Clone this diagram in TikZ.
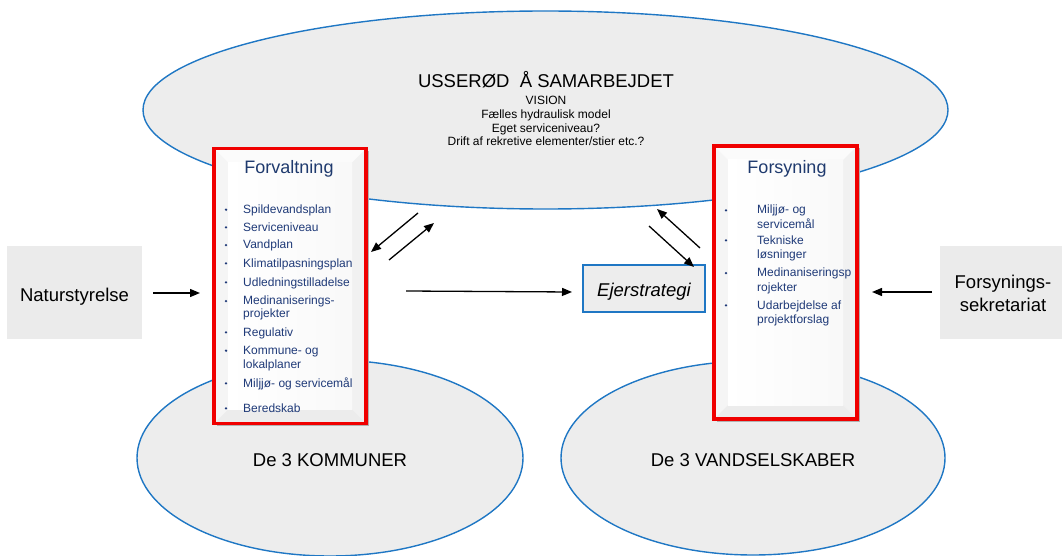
\documentclass[tikz,border=0pt]{standalone}
\usepackage{fontspec}
\setmainfont{Liberation Sans}
\usetikzlibrary{arrows.meta,shapes.geometric,calc}
\definecolor{ellfill}{HTML}{EDEDED}
\definecolor{ellblue}{HTML}{1F77C4}
\definecolor{navy}{HTML}{1F3A78}
\definecolor{titlenavy}{HTML}{1F3A6E}
\definecolor{boxred}{HTML}{F00000}
\definecolor{sidegray}{HTML}{EBEBEB}
\begin{document}
\begin{tikzpicture}[x=1pt,y=-1pt,
 ell/.style={ellipse, draw=ellblue, line width=1.4pt, fill=ellfill, inner sep=0pt},
 arr/.style={-{Triangle[length=10pt,width=8pt]}, line width=1.3pt},
 item/.style={anchor=base west, text=navy, font=\fontsize{12}{14}\selectfont, inner sep=0pt},
 bul/.style={circle, fill=navy, minimum size=2.6pt, inner sep=0pt},
 big/.style={anchor=base, font=\fontsize{18.5}{22}\selectfont, inner sep=0pt},
 small/.style={anchor=base, font=\fontsize{12}{14}\selectfont, inner sep=0pt},
 ptitle/.style={anchor=base, text=titlenavy, font=\fontsize{18}{22}\selectfont, inner sep=0pt},
 sidebox/.style={fill=sidegray, inner sep=0pt},
 ejerbox/.style={draw=ellblue, line width=1.3pt, fill=ellfill, inner sep=0pt},
 panel/.style={draw=boxred, line width=3.5pt, fill=white, inner sep=0pt,
   preaction={fill=black!30, transform canvas={shift={(2.5pt,-2.5pt)}}},
   path picture={
     \coordinate (pNW) at (path picture bounding box.north west);
     \coordinate (pNE) at (path picture bounding box.north east);
     \coordinate (pSW) at (path picture bounding box.south west);
     \coordinate (pSE) at (path picture bounding box.south east);
     \fill[gray!3] (pNW) -- (pNE) -- ($(pNE)+(-14,14)$) -- ($(pNW)+(14,14)$) -- cycle;
     \fill[gray!8] (pNW) -- (pSW) -- ($(pSW)+(14,-14)$) -- ($(pNW)+(14,14)$) -- cycle;
     \fill[gray!11] (pNE) -- (pSE) -- ($(pSE)+(-14,-14)$) -- ($(pNE)+(-14,14)$) -- cycle;
     \fill[gray!15] (pSW) -- (pSE) -- ($(pSE)+(-14,-14)$) -- ($(pSW)+(14,-14)$) -- cycle;
     \shade[left color=white, right color=gray!5] ($(pNW)+(14,14)$) rectangle ($(pSE)+(-14,-14)$);
   }},
 ]
\useasboundingbox (0,0) rectangle (1062,556);

% ellipses
\node[ell, minimum width=805pt, minimum height=198pt] (top) at (545.5,110) {};
\node[ell, minimum width=386pt, minimum height=196pt] (komm) at (330,458) {};
\node[ell, minimum width=384pt, minimum height=194pt] (vand) at (753,458) {};

% texts in ellipses
\node[big] (t1) at (546,88) {USSERØD\ \ Å SAMARBEJDET};
\node[small] (t2) at (546,105) {VISION};
\node[small] (t3) at (546,119) {Fælles hydraulisk model};
\node[small] (t4) at (546,132.5) {Eget serviceniveau?};
\node[small] (t5) at (546,146) {Drift af rekretive elementer/stier etc.?};
\node[big] (kommtxt) at (330,466) {De 3 KOMMUNER};
\node[big] (vandtxt) at (753,466) {De 3 VANDSELSKABER};

% side boxes
\node[sidebox, minimum width=135pt, minimum height=93pt] (nat) at (74.5,292.5) {};
\node[big] (nattxt) at (74.5,301) {Naturstyrelse};
\node[sidebox, minimum width=122pt, minimum height=93pt] (fsek) at (1001,292.5) {};
\node[big] (fsek1) at (1003,288) {Forsynings-};
\node[big] (fsek2) at (1003,311.5) {sekretariat};

% ejerstrategi
\node[ejerbox, minimum width=122pt, minimum height=47pt] (ejer) at (644,288.5) {};
\node[big, font=\fontsize{18.5}{22}\selectfont\itshape] (ejertxt) at (644,296.5) {Ejerstrategi};

% Forvaltning panel
\node[panel, minimum width=152pt, minimum height=275pt] (forv) at (290,286) {};
\node[ptitle] (forvt) at (289,174) {Forvaltning};
\foreach \y/\t [count=\i] in {213.3/Spildevandsplan, 231/Serviceniveau, 248.7/Vandplan, 267/Klimatilpasningsplan, 286/Udledningstilladelse, 304.7/Medinaniserings-, 336/Regulativ, 354.3/Kommune- og, 387/Miljjø- og servicemål, 412/Beredskab}{
  \node[bul] (fvb\i) at (226,\y-3.6) {};
  \node[item] (fvi\i) at (243,\y) {\t};
}
\node[item] (fvi6b) at (243,317.7) {projekter};
\node[item] (fvi8b) at (243,368.7) {lokalplaner};

% Forsyning panel
\node[panel, minimum width=143pt, minimum height=273pt] (fors) at (785.5,282.5) {};
\node[ptitle] (forst) at (787,174) {Forsyning};
\foreach \y/\a/\b [count=\i] in {214/Miljjø- og/servicemål, 244/Tekniske/løsninger, 276.7/Medinaniseringsp/rojekter, 309/Udarbejdelse af/projektforslag}{
  \node[bul] (fsb\i) at (726,\y-3.6) {};
  \node[item] (fsa\i) at (757,\y) {\a};
  \node[item] (fsc\i) at (757,\y+14.8) {\b};
}

% arrows
\coordinate (a1s) at (418,213); \coordinate (a1e) at (371,252);
\coordinate (a2s) at (389,260); \coordinate (a2e) at (434,223);
\coordinate (hs) at (406,291); \coordinate (he) at (572,292);
\coordinate (r1s) at (700,248); \coordinate (r1e) at (657,209);
\coordinate (r2s) at (649,226); \coordinate (r2e) at (694,267);
\coordinate (ns) at (153,293); \coordinate (ne) at (200,293);
\coordinate (ss) at (932,292); \coordinate (se) at (872,292);
\draw[arr] (a1s) -- (a1e);
\draw[arr] (a2s) -- (a2e);
\draw[arr] (hs) -- (he);
\draw[arr] (r1s) -- (r1e);
\draw[arr] (r2s) -- (r2e);
\draw[arr] (ns) -- (ne);
\draw[arr] (ss) -- (se);
\end{tikzpicture}
\end{document}
